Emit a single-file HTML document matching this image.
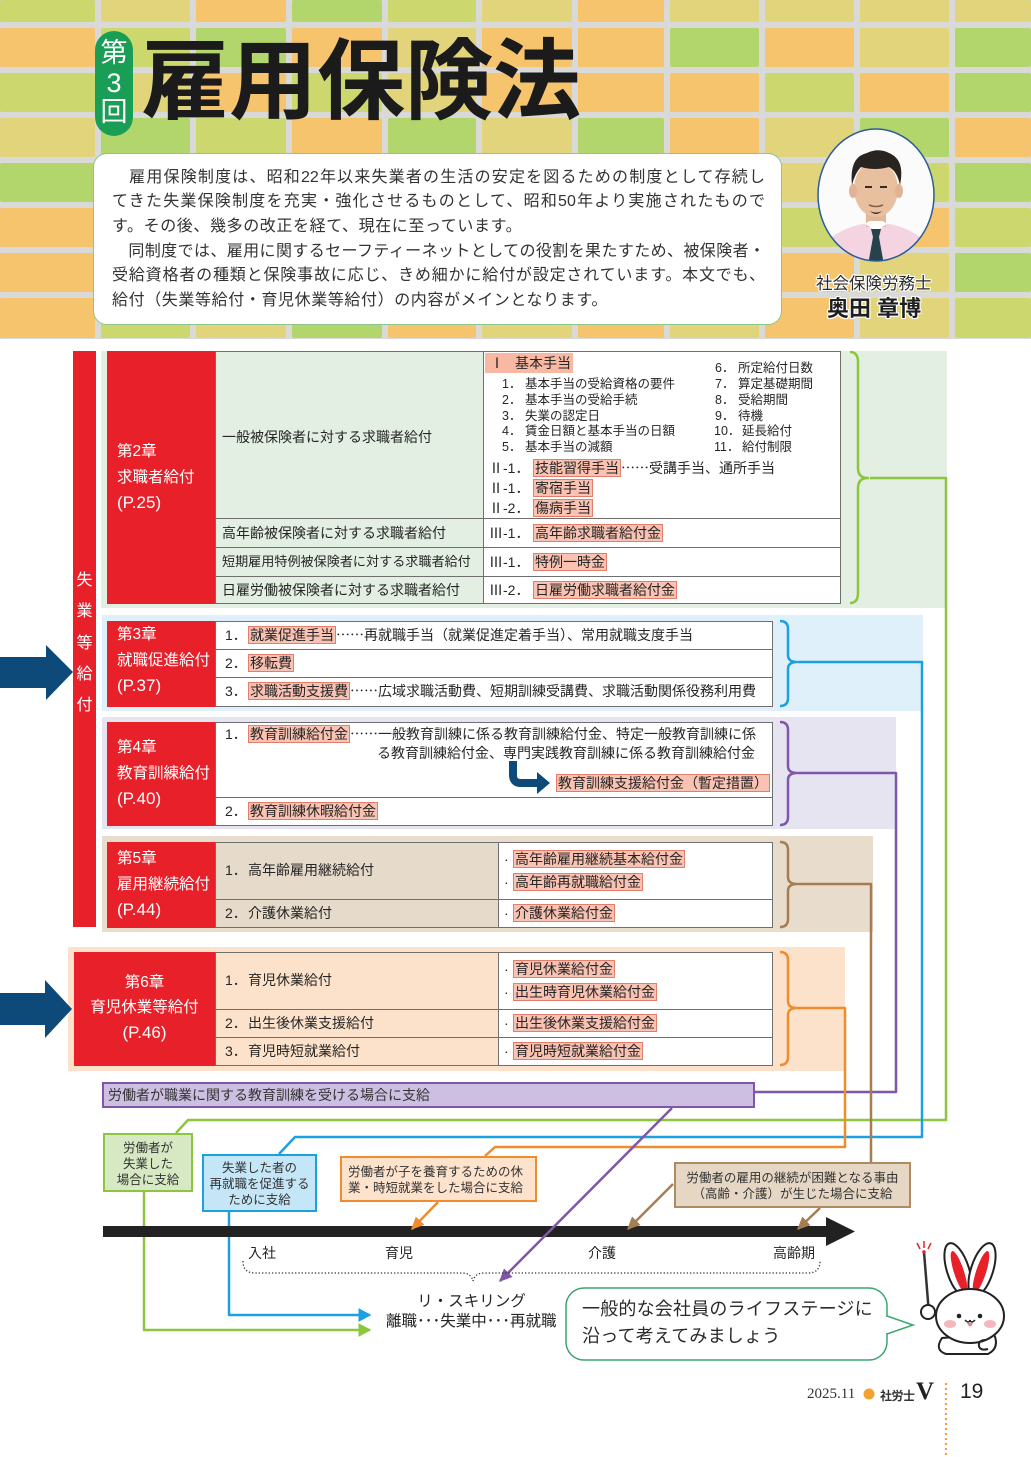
<!DOCTYPE html>
<html><head><meta charset="utf-8">
<style>
*{margin:0;padding:0;box-sizing:border-box}
body{width:1031px;height:1457px;position:relative;background:#fff;font-family:"Liberation Sans","Noto Sans CJK JP",sans-serif;color:#262626;overflow:hidden}
.a{position:absolute}
.c{font-family:"Noto Sans CJK JP",sans-serif}
i{position:absolute;border-radius:2px;display:block}
.O{background:#f6c46d}.Y{background:#e2d47a}.L{background:#ccd86e}.G{background:#b2d66b}
.t{position:absolute;white-space:nowrap;font-size:14px;line-height:20px}
.s{position:absolute;white-space:nowrap;font-size:12.5px;line-height:16px}
.h{display:inline-block;background:#f9c2b2;border:1px solid #e47e6c;padding:0 1px;line-height:16px}
.red{position:absolute;background:#e8202a;color:#fff}
.rt{position:absolute;left:10px;white-space:nowrap;font-size:15.5px;line-height:24px}
.ln{position:absolute;left:112px;width:653px;font-size:16px;line-height:24px;color:#333;white-space:nowrap}
.j{text-align:justify;text-align-last:justify;letter-spacing:0}
.n{letter-spacing:0.6px}
.bx{position:absolute;color:#333;font-size:12.5px;line-height:16px;text-align:center;white-space:nowrap}
.ol{text-shadow:0 0 2px #fff,1px 1px 0 #fff,-1px -1px 0 #fff,1px -1px 0 #fff,-1px 1px 0 #fff,0 1px 0 #fff,0 -1px 0 #fff,1px 0 0 #fff,-1px 0 0 #fff}
</style></head><body>

<!-- header background -->
<div class="a" style="left:0;top:0;width:1031px;height:339px;background:#d9d9d7"></div>
<!-- row 0 -->
<i class="L" style="left:0;top:0;width:95px;height:22px"></i><i class="Y" style="left:101px;top:0;width:89px;height:22px"></i><i class="O" style="left:196px;top:0;width:90px;height:22px"></i><i class="G" style="left:292px;top:0;width:90px;height:22px"></i><i class="L" style="left:388px;top:0;width:88px;height:22px"></i><i class="Y" style="left:482px;top:0;width:90px;height:22px"></i><i class="O" style="left:578px;top:0;width:86px;height:22px"></i><i class="Y" style="left:670px;top:0;width:89px;height:22px"></i><i class="Y" style="left:765px;top:0;width:89px;height:22px"></i><i class="Y" style="left:860px;top:0;width:89px;height:22px"></i><i class="Y" style="left:955px;top:0;width:76px;height:22px"></i>
<!-- row 1 -->
<i class="O" style="left:0;top:28px;width:95px;height:39px"></i><i class="L" style="left:101px;top:28px;width:89px;height:39px"></i><i class="G" style="left:196px;top:28px;width:90px;height:39px"></i><i class="O" style="left:292px;top:28px;width:90px;height:39px"></i><i class="Y" style="left:388px;top:28px;width:88px;height:39px"></i><i class="O" style="left:482px;top:28px;width:90px;height:39px"></i><i class="O" style="left:578px;top:28px;width:86px;height:39px"></i><i class="G" style="left:670px;top:28px;width:89px;height:39px"></i><i class="O" style="left:765px;top:28px;width:89px;height:39px"></i><i class="Y" style="left:860px;top:28px;width:89px;height:39px"></i><i class="G" style="left:955px;top:28px;width:76px;height:39px"></i>
<!-- row 2 -->
<i class="L" style="left:0;top:73px;width:95px;height:39px"></i><i class="Y" style="left:101px;top:73px;width:89px;height:39px"></i><i class="O" style="left:196px;top:73px;width:90px;height:39px"></i><i class="L" style="left:292px;top:73px;width:90px;height:39px"></i><i class="Y" style="left:388px;top:73px;width:88px;height:39px"></i><i class="O" style="left:482px;top:73px;width:90px;height:39px"></i><i class="O" style="left:578px;top:73px;width:86px;height:39px"></i><i class="O" style="left:670px;top:73px;width:89px;height:39px"></i><i class="L" style="left:765px;top:73px;width:89px;height:39px"></i><i class="O" style="left:860px;top:73px;width:89px;height:39px"></i><i class="G" style="left:955px;top:73px;width:76px;height:39px"></i>
<!-- row 3 -->
<i class="Y" style="left:0;top:118px;width:95px;height:39px"></i><i class="G" style="left:101px;top:118px;width:89px;height:39px"></i><i class="L" style="left:196px;top:118px;width:90px;height:39px"></i><i class="O" style="left:292px;top:118px;width:90px;height:39px"></i><i class="G" style="left:388px;top:118px;width:88px;height:39px"></i><i class="Y" style="left:482px;top:118px;width:90px;height:39px"></i><i class="G" style="left:578px;top:118px;width:86px;height:39px"></i><i class="O" style="left:670px;top:118px;width:89px;height:39px"></i><i class="Y" style="left:765px;top:118px;width:89px;height:39px"></i><i class="G" style="left:860px;top:118px;width:89px;height:39px"></i><i class="O" style="left:955px;top:118px;width:76px;height:39px"></i>
<!-- row 4 -->
<i class="G" style="left:0;top:163px;width:95px;height:39px"></i><i class="O" style="left:101px;top:163px;width:89px;height:39px"></i><i class="Y" style="left:196px;top:163px;width:90px;height:39px"></i><i class="L" style="left:292px;top:163px;width:90px;height:39px"></i><i class="O" style="left:388px;top:163px;width:88px;height:39px"></i><i class="G" style="left:482px;top:163px;width:90px;height:39px"></i><i class="Y" style="left:578px;top:163px;width:86px;height:39px"></i><i class="L" style="left:670px;top:163px;width:89px;height:39px"></i><i class="Y" style="left:765px;top:163px;width:89px;height:39px"></i><i class="L" style="left:860px;top:163px;width:89px;height:39px"></i><i class="G" style="left:955px;top:163px;width:76px;height:39px"></i>
<!-- row 5 -->
<i class="O" style="left:0;top:208px;width:95px;height:39px"></i><i class="L" style="left:101px;top:208px;width:89px;height:39px"></i><i class="G" style="left:196px;top:208px;width:90px;height:39px"></i><i class="Y" style="left:292px;top:208px;width:90px;height:39px"></i><i class="L" style="left:388px;top:208px;width:88px;height:39px"></i><i class="O" style="left:482px;top:208px;width:90px;height:39px"></i><i class="O" style="left:578px;top:208px;width:86px;height:39px"></i><i class="Y" style="left:670px;top:208px;width:89px;height:39px"></i><i class="L" style="left:765px;top:208px;width:89px;height:39px"></i><i class="O" style="left:860px;top:208px;width:89px;height:39px"></i><i class="L" style="left:955px;top:208px;width:76px;height:39px"></i>
<!-- row 6 -->
<i class="O" style="left:0;top:253px;width:95px;height:39px"></i><i class="Y" style="left:101px;top:253px;width:89px;height:39px"></i><i class="L" style="left:196px;top:253px;width:90px;height:39px"></i><i class="O" style="left:292px;top:253px;width:90px;height:39px"></i><i class="G" style="left:388px;top:253px;width:88px;height:39px"></i><i class="Y" style="left:482px;top:253px;width:90px;height:39px"></i><i class="L" style="left:578px;top:253px;width:86px;height:39px"></i><i class="G" style="left:670px;top:253px;width:89px;height:39px"></i><i class="O" style="left:765px;top:253px;width:89px;height:39px"></i><i class="Y" style="left:860px;top:253px;width:89px;height:39px"></i><i class="G" style="left:955px;top:253px;width:76px;height:39px"></i>
<!-- row 7 -->
<i class="O" style="left:0;top:298px;width:95px;height:40px"></i><i class="L" style="left:101px;top:298px;width:89px;height:40px"></i><i class="Y" style="left:196px;top:298px;width:90px;height:40px"></i><i class="G" style="left:292px;top:298px;width:90px;height:40px"></i><i class="O" style="left:388px;top:298px;width:88px;height:40px"></i><i class="Y" style="left:482px;top:298px;width:90px;height:40px"></i><i class="O" style="left:578px;top:298px;width:86px;height:40px"></i><i class="Y" style="left:670px;top:298px;width:89px;height:40px"></i><i class="O" style="left:765px;top:298px;width:89px;height:40px"></i><i class="Y" style="left:860px;top:298px;width:89px;height:40px"></i><i class="L" style="left:955px;top:298px;width:76px;height:40px"></i>

<!-- title -->
<div class="a" style="left:95px;top:31px;width:38px;height:105px;border-radius:19px;background:#1a9e55"></div>
<div class="a" style="left:95px;top:39px;width:38px;text-align:center;color:#fff;font-size:27px;line-height:29.5px">第<br>3<br>回</div>
<div class="a" style="left:141px;top:34px;font-size:88px;line-height:96px;font-weight:700;color:#1b1b1b;white-space:nowrap">雇用保険法</div>

<!-- intro box -->
<div class="a" style="left:93px;top:153px;width:689px;height:172px;background:#fff;border:1px solid #8fc58a;border-radius:14px"></div>
<div class="ln j" style="top:166px">　雇用保険制度は、昭和22年以来失業者の生活の安定を図るための制度として存続し</div>
<div class="ln j" style="top:190px">てきた失業保険制度を充実・強化させるものとして、昭和50年より実施されたもので</div>
<div class="ln n" style="top:215px">す。その後、幾多の改正を経て、現在に至っています。</div>
<div class="ln j" style="top:240px">　同制度では、雇用に関するセーフティーネットとしての役割を果たすため、被保険者・</div>
<div class="ln j" style="top:264px">受給資格者の種類と保険事故に応じ、きめ細かに給付が設定されています。本文でも、</div>
<div class="ln n" style="top:289px">給付（失業等給付・育児休業等給付）の内容がメインとなります。</div>

<!-- photo -->
<svg class="a" style="left:815px;top:127px" width="122" height="138" viewBox="0 0 122 138">
<defs><clipPath id="cp"><ellipse cx="61" cy="68" rx="58" ry="66"/></clipPath></defs>
<ellipse cx="61" cy="68" rx="58" ry="66" fill="#fbfbfb"/>
<g clip-path="url(#cp)">
<path d="M6,138 L14,112 Q30,100 48,97 L74,97 Q92,100 108,112 L116,138 Z" fill="#f3d4e0"/>
<rect x="51" y="82" width="20" height="18" fill="#e2b797"/>
<path d="M50,97 L61,104 L72,97 L68,94 L54,94 Z" fill="#fff"/>
<path d="M56,102 L66,102 L64,110 L69,138 L53,138 L58,110 Z" fill="#26434c"/>
<ellipse cx="61" cy="62" rx="22" ry="28" fill="#e8c0a0"/>
<ellipse cx="38" cy="64" rx="4" ry="7" fill="#dfb393"/>
<ellipse cx="84" cy="64" rx="4" ry="7" fill="#dfb393"/>
<path d="M37,58 Q34,30 52,26 Q64,20 76,27 Q90,34 85,58 Q82,44 74,40 Q60,44 46,40 Q40,46 37,58 Z" fill="#2a2420"/>
<path d="M50,60 h7 M65,60 h7" stroke="#3a2a22" stroke-width="2"/>
<path d="M54,78 Q61,81 68,78" stroke="#8a5a4a" stroke-width="1.5" fill="none"/>
<path d="M55,84 Q61,90 67,84 Q61,87 55,84" fill="#4a3a30"/>
</g>
<ellipse cx="61" cy="68" rx="58" ry="66" fill="none" stroke="#2b5c9a" stroke-width="1.5"/>
</svg>
<div class="a ol" style="left:816px;top:274px;font-size:16.5px;line-height:20px;white-space:nowrap;color:#2a2a2a">社会保険労務士</div>
<div class="a ol" style="left:827px;top:296px;font-size:22px;line-height:26px;font-weight:700;white-space:nowrap;color:#1e1e1e">奥田 章博</div>

<!-- left red bar -->
<div class="red" style="left:73px;top:351px;width:23px;height:576px"></div>
<div class="a" style="left:73px;top:565px;width:23px;text-align:center;color:#fff;font-size:16px;line-height:31.3px">失<br>業<br>等<br>給<br>付</div>

<!-- Chapter 2 -->
<div class="a" style="left:101px;top:351px;width:846px;height:257px;background:#e3efe3"></div>
<div class="red" style="left:107px;top:351px;width:108px;height:253px">
<div class="rt" style="top:89px">第2章</div><div class="rt" style="top:115px">求職者給付</div><div class="rt" style="top:140px;font-size:17px">(P.25)</div></div>
<div class="a" style="left:215px;top:351px;width:626px;height:253px;border:1px solid #6f6f6f"></div>
<div class="a" style="left:483px;top:352px;width:357px;height:251px;background:#fff"></div>
<div class="a" style="left:483px;top:351px;width:1px;height:253px;background:#6f6f6f"></div>
<div class="a" style="left:215px;top:518px;width:626px;height:1px;background:#6f6f6f"></div>
<div class="a" style="left:215px;top:547px;width:626px;height:1px;background:#6f6f6f"></div>
<div class="a" style="left:215px;top:576px;width:626px;height:1px;background:#6f6f6f"></div>
<div class="t" style="left:222px;top:427px">一般被保険者に対する求職者給付</div>
<div class="t" style="left:222px;top:523px">高年齢被保険者に対する求職者給付</div>
<div class="t" style="left:222px;top:552px;font-size:13.1px">短期雇用特例被保険者に対する求職者給付</div>
<div class="t" style="left:222px;top:580px">日雇労働被保険者に対する求職者給付</div>
<div class="a" style="left:485px;top:353px;width:88px;height:20px;background:#f8b8a2"></div>
<div class="t c" style="left:490px;top:353px">Ⅰ</div><div class="t" style="left:515px;top:353px">基本手当</div>
<div class="s" style="left:502px;top:376px"><span style="display:inline-block;width:23px">1．</span>基本手当の受給資格の要件</div>
<div class="s" style="left:502px;top:392px"><span style="display:inline-block;width:23px">2．</span>基本手当の受給手続</div>
<div class="s" style="left:502px;top:408px"><span style="display:inline-block;width:23px">3．</span>失業の認定日</div>
<div class="s" style="left:502px;top:423px"><span style="display:inline-block;width:23px">4．</span>賃金日額と基本手当の日額</div>
<div class="s" style="left:502px;top:439px"><span style="display:inline-block;width:23px">5．</span>基本手当の減額</div>
<div class="s" style="left:715px;top:360px"><span style="display:inline-block;width:23px">6．</span>所定給付日数</div>
<div class="s" style="left:715px;top:376px"><span style="display:inline-block;width:23px">7．</span>算定基礎期間</div>
<div class="s" style="left:715px;top:392px"><span style="display:inline-block;width:23px">8．</span>受給期間</div>
<div class="s" style="left:715px;top:408px"><span style="display:inline-block;width:23px">9．</span>待機</div>
<div class="s" style="left:714px;top:423px"><span style="display:inline-block;width:28px">10．</span>延長給付</div>
<div class="s" style="left:714px;top:439px"><span style="display:inline-block;width:28px">11．</span>給付制限</div>
<div class="t" style="left:489px;top:458px"><span style="display:inline-block;width:44px"><span class="c">Ⅱ</span>-1．</span><span class="h">技能習得手当</span><span class="c">……</span>受講手当、通所手当</div>
<div class="t" style="left:489px;top:478px"><span style="display:inline-block;width:44px"><span class="c">Ⅱ</span>-1．</span><span class="h">寄宿手当</span></div>
<div class="t" style="left:489px;top:498px"><span style="display:inline-block;width:44px"><span class="c">Ⅱ</span>-2．</span><span class="h">傷病手当</span></div>
<div class="t" style="left:489px;top:523px"><span style="display:inline-block;width:44px"><span class="c">Ⅲ</span>-1．</span><span class="h">高年齢求職者給付金</span></div>
<div class="t" style="left:489px;top:552px"><span style="display:inline-block;width:44px"><span class="c">Ⅲ</span>-1．</span><span class="h">特例一時金</span></div>
<div class="t" style="left:489px;top:580px"><span style="display:inline-block;width:44px"><span class="c">Ⅲ</span>-2．</span><span class="h">日雇労働求職者給付金</span></div>

<!-- Chapter 3 -->
<div class="a" style="left:102px;top:615px;width:821px;height:96px;background:#dff0fa"></div>
<div class="red" style="left:107px;top:621px;width:108px;height:86px">
<div class="rt" style="top:2px">第3章</div><div class="rt" style="top:28px">就職促進給付</div><div class="rt" style="top:53px;font-size:17px">(P.37)</div></div>
<div class="a" style="left:215px;top:621px;width:558px;height:86px;border:1px solid #6f6f6f;background:#fff"></div>
<div class="a" style="left:215px;top:649px;width:558px;height:1px;background:#6f6f6f"></div>
<div class="a" style="left:215px;top:677px;width:558px;height:1px;background:#6f6f6f"></div>
<div class="t" style="left:225px;top:625px"><span style="display:inline-block;width:23px">1．</span><span class="h">就業促進手当</span><span class="c">……</span>再就職手当（就業促進定着手当）、常用就職支度手当</div>
<div class="t" style="left:225px;top:653px"><span style="display:inline-block;width:23px">2．</span><span class="h">移転費</span></div>
<div class="t" style="left:225px;top:681px"><span style="display:inline-block;width:23px">3．</span><span class="h">求職活動支援費</span><span class="c">……</span>広域求職活動費、短期訓練受講費、求職活動関係役務利用費</div>

<!-- Chapter 4 -->
<div class="a" style="left:102px;top:717px;width:794px;height:112px;background:#e7e4f2"></div>
<div class="red" style="left:107px;top:722px;width:108px;height:104px">
<div class="rt" style="top:14px">第4章</div><div class="rt" style="top:40px">教育訓練給付</div><div class="rt" style="top:65px;font-size:17px">(P.40)</div></div>
<div class="a" style="left:215px;top:722px;width:558px;height:104px;border:1px solid #6f6f6f;background:#fff"></div>
<div class="a" style="left:215px;top:797px;width:558px;height:1px;background:#6f6f6f"></div>
<div class="t" style="left:225px;top:724px"><span style="display:inline-block;width:23px">1．</span><span class="h">教育訓練給付金</span><span class="c">……</span>一般教育訓練に係る教育訓練給付金、特定一般教育訓練に係</div>
<div class="t" style="left:377px;top:743px">る教育訓練給付金、専門実践教育訓練に係る教育訓練給付金</div>
<div class="t" style="left:556px;top:773px"><span class="h">教育訓練支援給付金（暫定措置）</span></div>
<div class="t" style="left:225px;top:801px"><span style="display:inline-block;width:23px">2．</span><span class="h">教育訓練休暇給付金</span></div>

<!-- Chapter 5 -->
<div class="a" style="left:102px;top:836px;width:771px;height:96px;background:#e8dccc"></div>
<div class="red" style="left:107px;top:842px;width:108px;height:86px">
<div class="rt" style="top:5px">第5章</div><div class="rt" style="top:31px">雇用継続給付</div><div class="rt" style="top:56px;font-size:17px">(P.44)</div></div>
<div class="a" style="left:215px;top:842px;width:558px;height:86px;border:1px solid #6f6f6f;background:#fff"></div>
<div class="a" style="left:216px;top:843px;width:282px;height:84px;background:#e6dacb"></div>
<div class="a" style="left:498px;top:842px;width:1px;height:86px;background:#6f6f6f"></div>
<div class="a" style="left:215px;top:899px;width:558px;height:1px;background:#6f6f6f"></div>
<div class="t" style="left:225px;top:860px"><span style="display:inline-block;width:23px">1．</span>高年齢雇用継続給付</div>
<div class="t" style="left:225px;top:903px"><span style="display:inline-block;width:23px">2．</span>介護休業給付</div>
<div class="t" style="left:504px;top:849px"><span style="display:inline-block;width:9px">·</span><span class="h">高年齢雇用継続基本給付金</span></div>
<div class="t" style="left:504px;top:872px"><span style="display:inline-block;width:9px">·</span><span class="h">高年齢再就職給付金</span></div>
<div class="t" style="left:504px;top:903px"><span style="display:inline-block;width:9px">·</span><span class="h">介護休業給付金</span></div>

<!-- Chapter 6 -->
<div class="a" style="left:68px;top:947px;width:777px;height:124px;background:#fde2cb"></div>
<div class="red" style="left:74px;top:952px;width:141px;height:114px;text-align:center">
<div class="rt" style="top:19px;left:0;width:141px">第6章</div><div class="rt" style="top:44px;left:0;width:141px">育児休業等給付</div><div class="rt" style="top:69px;left:0;width:141px;font-size:17px">(P.46)</div></div>
<div class="a" style="left:215px;top:952px;width:558px;height:114px;border:1px solid #6f6f6f;background:#fff"></div>
<div class="a" style="left:216px;top:953px;width:282px;height:112px;background:#fde2cb"></div>
<div class="a" style="left:498px;top:952px;width:1px;height:114px;background:#6f6f6f"></div>
<div class="a" style="left:215px;top:1009px;width:558px;height:1px;background:#6f6f6f"></div>
<div class="a" style="left:215px;top:1037px;width:558px;height:1px;background:#6f6f6f"></div>
<div class="t" style="left:225px;top:970px"><span style="display:inline-block;width:23px">1．</span>育児休業給付</div>
<div class="t" style="left:225px;top:1013px"><span style="display:inline-block;width:23px">2．</span>出生後休業支援給付</div>
<div class="t" style="left:225px;top:1041px"><span style="display:inline-block;width:23px">3．</span>育児時短就業給付</div>
<div class="t" style="left:504px;top:959px"><span style="display:inline-block;width:9px">·</span><span class="h">育児休業給付金</span></div>
<div class="t" style="left:504px;top:982px"><span style="display:inline-block;width:9px">·</span><span class="h">出生時育児休業給付金</span></div>
<div class="t" style="left:504px;top:1013px"><span style="display:inline-block;width:9px">·</span><span class="h">出生後休業支援給付金</span></div>
<div class="t" style="left:504px;top:1041px"><span style="display:inline-block;width:9px">·</span><span class="h">育児時短就業給付金</span></div>

<!-- purple bar -->
<div class="a" style="left:102px;top:1082px;width:653px;height:26px;background:#cdbfe1;border:2px solid #7e57a8"></div>
<div class="t" style="left:108px;top:1085px;color:#333">労働者が職業に関する教育訓練を受ける場合に支給</div>

<!-- connectors -->
<svg class="a" style="left:0;top:0" width="1031" height="1457" viewBox="0 0 1031 1457">
<defs>
<marker id="mg" viewBox="0 0 10 10" refX="9" refY="5" markerUnits="userSpaceOnUse" markerWidth="13" markerHeight="14" orient="auto" preserveAspectRatio="none"><path d="M0,0 L10,5 L0,10 z" fill="#8cc63f"/></marker>
<marker id="mb" viewBox="0 0 10 10" refX="9" refY="5" markerUnits="userSpaceOnUse" markerWidth="13" markerHeight="14" orient="auto" preserveAspectRatio="none"><path d="M0,0 L10,5 L0,10 z" fill="#1ba1e2"/></marker>
<marker id="mp" viewBox="0 0 10 10" refX="9" refY="5" markerUnits="userSpaceOnUse" markerWidth="13" markerHeight="12" orient="auto" preserveAspectRatio="none"><path d="M0,0 L10,5 L0,10 z" fill="#7e57a8"/></marker>
<marker id="mo" viewBox="0 0 10 10" refX="9" refY="5" markerUnits="userSpaceOnUse" markerWidth="13" markerHeight="12" orient="auto" preserveAspectRatio="none"><path d="M0,0 L10,5 L0,10 z" fill="#f08c2e"/></marker>
<marker id="mr" viewBox="0 0 10 10" refX="9" refY="5" markerUnits="userSpaceOnUse" markerWidth="13" markerHeight="12" orient="auto" preserveAspectRatio="none"><path d="M0,0 L10,5 L0,10 z" fill="#a67c52"/></marker>
</defs>
<!-- navy big arrows -->
<polygon points="0,657 46,657 46,645 73,672 46,700 46,688 0,688" fill="#0d4a7a"/>
<polygon points="0,993 45,993 45,980 72,1009 45,1038 45,1025 0,1025" fill="#0d4a7a"/>
<!-- ch4 bent arrow -->
<path d="M513,761 V775 Q513,783 521,783 H540" fill="none" stroke="#0d4a7a" stroke-width="8"/>
<polygon points="537,772 550,783 537,794" fill="#0d4a7a"/>
<g fill="none" stroke-width="2.5" stroke-linejoin="round">
<!-- braces -->
<path stroke="#8cc63f" d="M850,352 Q858,352 858,362 L858,468 Q858,478 868,478 Q858,478 858,488 L858,593 Q858,603 850,603"/>
<path stroke="#1ba1e2" d="M780,621 Q788,621 788,629 L788,655 Q788,662 797,662 Q788,662 788,669 L788,698 Q788,706 780,706"/>
<path stroke="#7e57a8" d="M780,722 Q788,722 788,730 L788,766 Q788,773 797,773 Q788,773 788,780 L788,817 Q788,825 780,825"/>
<path stroke="#a67c52" d="M780,842 Q788,842 788,850 L788,877 Q788,884 797,884 Q788,884 788,891 L788,919 Q788,927 780,927"/>
<path stroke="#f08c2e" d="M780,952 Q788,952 788,960 L788,1001 Q788,1008 797,1008 Q788,1008 788,1015 L788,1057 Q788,1065 780,1065"/>
<!-- route lines -->
<path stroke="#8cc63f" d="M870,478 H946 V1120 H188 L176,1133"/>
<path stroke="#1ba1e2" d="M798,662 H922 V1137 H295 L279,1154"/>
<path stroke="#7e57a8" d="M798,773 H896 V1092 H755"/>
<path stroke="#a67c52" d="M798,884 H871 V1162"/>
<path stroke="#f08c2e" d="M798,1008 H845 V1147 H495 L485,1156"/>
<path stroke="#8cc63f" d="M144,1192 V1330 H370" marker-end="url(#mg)"/>
<path stroke="#1ba1e2" d="M229,1212 V1315 H370" marker-end="url(#mb)"/>
</g>
<!-- timeline -->
<rect x="103" y="1226" width="726" height="11" fill="#222"/>
<polygon points="826,1217 855,1231.5 826,1246" fill="#222"/>
<g fill="none" stroke-width="2.5">
<path stroke="#f08c2e" d="M438,1202 L412,1229" marker-end="url(#mo)"/>
<path stroke="#a67c52" d="M673,1184 L628,1229" marker-end="url(#mr)"/>
<path stroke="#a67c52" d="M820,1208 L798,1229" marker-end="url(#mr)"/>
<path stroke="#7e57a8" d="M672,1108 L500,1281" marker-end="url(#mp)"/>
</g>
<!-- dotted brace -->
<path d="M243,1261 Q243,1273 255,1273 H462 Q471,1273 473,1281 Q475,1273 484,1273 H808 Q820,1273 820,1261" fill="none" stroke="#333" stroke-width="1.3" stroke-dasharray="1.3 2"/>
<!-- speech bubble -->
<rect x="566" y="1288" width="321" height="72" rx="18" fill="#fff" stroke="#3aa56e" stroke-width="1.5"/>
<path d="M887,1316 L913,1325 L887,1334" fill="#fff" stroke="#3aa56e" stroke-width="1.5"/>
<line x1="887" y1="1317" x2="887" y2="1333" stroke="#fff" stroke-width="2.5"/>
<!-- footer dotted line -->
<line x1="946" y1="1383" x2="946" y2="1457" stroke="#f0a040" stroke-width="2.2" stroke-dasharray="2 3"/>
<circle cx="869" cy="1394" r="5.5" fill="#f5a030"/>
</svg>

<!-- bottom boxes -->
<div class="bx" style="left:103px;top:1133px;width:90px;height:59px;background:#d6e9c2;border:2px solid #8cc63f;padding-top:5px">労働者が<br>失業した<br>場合に支給</div>
<div class="bx" style="left:202px;top:1154px;width:115px;height:58px;background:#c4e6f7;border:2px solid #1ba1e2;padding-top:4px">失業した者の<br>再就職を促進する<br>ために支給</div>
<div class="bx" style="left:340px;top:1156px;width:197px;height:46px;background:#fde2cc;border:2px solid #f08c2e;padding:6px 0 0 6px;text-align:left">労働者が子を養育するための休<br>業・時短就業をした場合に支給</div>
<div class="bx" style="left:674px;top:1162px;width:237px;height:46px;background:#e6d7c4;border:2px solid #b08a62;padding-top:6px">労働者の雇用の継続が困難となる事由<br>（高齢・介護）が生じた場合に支給</div>

<!-- timeline labels -->
<div class="t" style="left:248px;top:1243px">入社</div>
<div class="t" style="left:385px;top:1243px">育児</div>
<div class="t" style="left:588px;top:1243px">介護</div>
<div class="t" style="left:773px;top:1243px">高齢期</div>
<div class="t" style="left:386px;top:1292px;width:171px;text-align:center;font-size:15.5px">リ・スキリング</div>
<div class="t" style="left:386px;top:1312px;font-size:15.5px">離職･･･失業中･･･再就職</div>

<!-- speech text -->
<div class="a" style="left:582px;top:1296px;font-size:18px;line-height:27px;letter-spacing:0.2px;white-space:nowrap;color:#2a2a2a">一般的な会社員のライフステージに<br>沿って考えてみましょう</div>

<!-- rabbit -->
<svg class="a" style="left:912px;top:1238px" width="100" height="122" viewBox="0 0 100 122">
<g stroke="#e8202a" stroke-width="1.5"><line x1="5" y1="5" x2="8" y2="11"/><line x1="12" y1="3" x2="12" y2="10"/><line x1="19" y1="5" x2="16" y2="11"/></g>
<line x1="12" y1="14" x2="17" y2="76" stroke="#333" stroke-width="2.5"/>
<circle cx="12" cy="14" r="1.8" fill="#e8202a"/>
<g stroke="#222" stroke-width="2" fill="#fff">
<ellipse cx="46" cy="32" rx="11" ry="28" transform="rotate(-18 46 32)"/>
<ellipse cx="70" cy="32" rx="11" ry="28" transform="rotate(18 70 32)"/>
</g>
<ellipse cx="47" cy="34" rx="5" ry="22" transform="rotate(-18 47 34)" fill="#e8202a"/>
<ellipse cx="69" cy="34" rx="5" ry="22" transform="rotate(18 69 34)" fill="#e8202a"/>
<path d="M30,100 Q22,112 34,116 L76,116 Q88,110 82,96 Z" fill="#fff" stroke="#222" stroke-width="2"/>
<ellipse cx="58" cy="78" rx="34" ry="27" fill="#fff" stroke="#222" stroke-width="2"/>
<ellipse cx="38" cy="86" rx="6" ry="4" fill="#f6b6c0"/>
<ellipse cx="78" cy="86" rx="6" ry="4" fill="#f6b6c0"/>
<circle cx="47" cy="78" r="2.3" fill="#222"/>
<circle cx="68" cy="78" r="2.3" fill="#222"/>
<path d="M53,82 Q57,86 58,82 Q59,86 63,82" fill="none" stroke="#222" stroke-width="1.5"/>
<path d="M55,85 Q58,92 61,85 Z" fill="#ef7f8c"/>
<circle cx="16" cy="74" r="7" fill="#fff" stroke="#222" stroke-width="2"/>
<path d="M74,102 Q66,102 67,108 Q68,113 76,111" fill="none" stroke="#222" stroke-width="2"/>
</svg>

<!-- footer -->
<div class="a" style="left:807px;top:1385px;font-family:'Liberation Serif',serif;font-size:15px;line-height:18px;color:#333;white-space:nowrap">2025.11</div>
<div class="a" style="left:880px;top:1388px;font-size:12px;line-height:16px;font-weight:700;color:#333;white-space:nowrap;letter-spacing:-0.5px">社労士</div>
<div class="a" style="left:916px;top:1379px;font-family:'Liberation Serif',serif;font-size:25px;line-height:26px;font-weight:700;color:#222">V</div>
<div class="a" style="left:960px;top:1380px;font-size:21px;line-height:24px;color:#222">19</div>

</body></html>
